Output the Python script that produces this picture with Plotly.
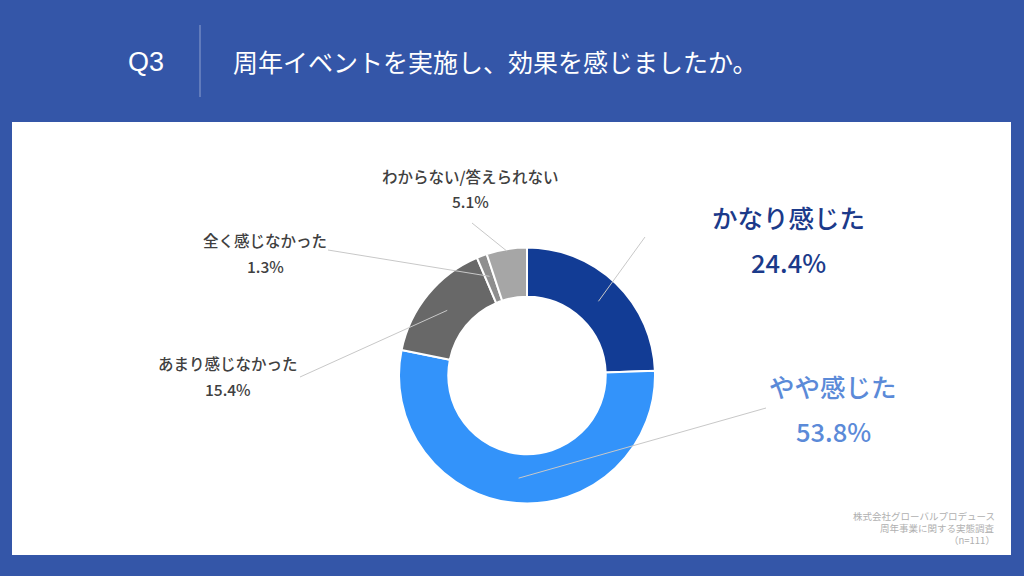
import math
import plotly.graph_objects as go

# ---- data ----
categories = ["かなり感じた", "やや感じた", "あまり感じなかった", "全く感じなかった", "わからない/答えられない"]
values = [24.4, 53.8, 15.4, 1.3, 5.1]
slice_colors = ["#123c95", "#3393fa", "#686868", "#8e8e8e", "#a6a6a6"]
label_colors = ["#1b3a8a", "#5b8ad8", "#404040", "#404040", "#404040"]
label_sizes = [25.5, 25.5, 15.5, 15.5, 15.5]
label_weights = [500, 500, 500, 500, 500]
title_q = "Q3"
title_text = "周年イベントを実施し、効果を感じましたか。"
source_lines = ["株式会社グローバルプロデュース", "周年事業に関する実態調査", "（n=111）"]

W, H = 1024, 576
BG = "#3456a8"
FONT = "Noto Sans CJK JP"

def px(x):
    return x / W

def py(y):
    return 1 - y / H

# donut geometry (pixels)
cx, cy, R = 527, 375.5, 128
hole = 0.615

fig = go.Figure()
fig.add_trace(go.Pie(
    labels=categories,
    values=values,
    sort=False,
    direction="clockwise",
    rotation=0,
    hole=hole,
    marker=dict(colors=slice_colors, line=dict(color="white", width=2)),
    textinfo="none",
    hoverinfo="label+percent",
    showlegend=False,
    domain=dict(x=[px(cx - R), px(cx + R)], y=[py(cy + R), py(cy - R)]),
))

shapes = []
annotations = []

# panel
shapes.append(dict(type="rect", xref="paper", yref="paper", x0=px(12), x1=px(1011),
                   y0=py(555), y1=py(122), fillcolor="white", line=dict(width=0), layer="below"))
# header divider
shapes.append(dict(type="line", xref="paper", yref="paper", x0=px(200), x1=px(200),
                   y0=py(25), y1=py(97), line=dict(color="#8ea0cf", width=1)))

annotations.append(dict(text=title_q, x=px(146), y=py(62), xref="paper", yref="paper",
                        showarrow=False, xanchor="center", yanchor="middle",
                        font=dict(family="Liberation Sans, Arial", size=27, color="white")))
annotations.append(dict(text=title_text, x=px(231), y=py(61), xref="paper", yref="paper",
                        showarrow=False, xanchor="left", yanchor="middle",
                        font=dict(family=FONT, size=25, color="white")))

# label positions (pixels): centre x, name line y, percent line y
label_pos = [
    (788, 216, 261),
    (833, 385, 430),
    (228, 363, 389),
    (265, 240, 266),
    (470, 176, 201),
]
leader_end = [(645, 237), (766, 408), (300, 377), (328, 250), (472, 223)]
leader_r = [103, 103, 103, 106, 126]

total = sum(values)
cum = 0
for i, v in enumerate(values):
    mid = (cum + v / 2) / total * 2 * math.pi
    cum += v
    sx = cx + leader_r[i] * math.sin(mid)
    sy = cy - leader_r[i] * math.cos(mid)
    ex, ey = leader_end[i]
    shapes.append(dict(type="line", xref="paper", yref="paper", x0=px(sx), y0=py(sy),
                       x1=px(ex), y1=py(ey), line=dict(color="#c8c8c8", width=1)))
    lx, ly1, ly2 = label_pos[i]
    f = dict(family=FONT, size=label_sizes[i], color=label_colors[i], weight=label_weights[i])
    annotations.append(dict(text=categories[i], x=px(lx), y=py(ly1), xref="paper", yref="paper",
                            showarrow=False, xanchor="center", yanchor="middle", font=f))
    annotations.append(dict(text=f"{v:.1f}%", x=px(lx), y=py(ly2), xref="paper", yref="paper",
                            showarrow=False, xanchor="center", yanchor="middle", font=f))

# source note
for j, line in enumerate(source_lines):
    annotations.append(dict(text=line, x=px(997), y=py(516 + 12 * j), xref="paper", yref="paper",
                            showarrow=False, xanchor="right", yanchor="middle",
                            font=dict(family=FONT, size=9.5, color="#b0b0b0")))

fig.update_layout(
    width=W, height=H,
    margin=dict(l=0, r=0, t=0, b=0),
    paper_bgcolor=BG,
    plot_bgcolor=BG,
    shapes=shapes,
    annotations=annotations,
)

fig.write_html("out.html", config={"displayModeBar": False},
               post_script="document.body.style.margin='0';document.body.style.overflow='hidden';")
